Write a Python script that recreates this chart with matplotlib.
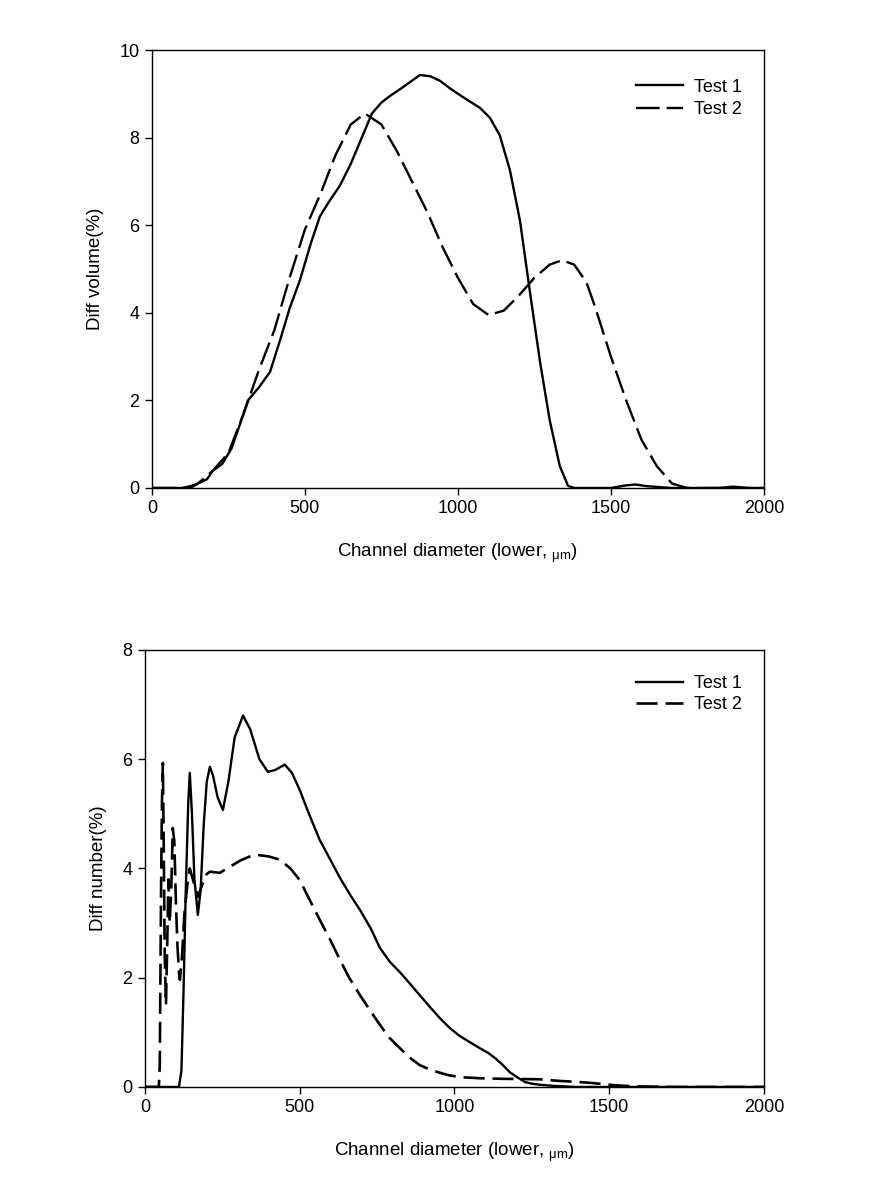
import matplotlib
matplotlib.use("Agg")
import matplotlib.pyplot as plt

plt.rcParams['font.family'] = ['Liberation Sans', 'DejaVu Sans']
plt.rcParams['mathtext.fontset'] = 'custom'
plt.rcParams['mathtext.rm'] = 'Liberation Sans'

# --- top panel: differential volume ---
vol_x1 = [0, 100, 130, 150, 180, 200, 230, 260, 290, 314, 350, 386, 420, 450, 484,
          520, 549, 580, 614, 650, 680, 719, 750, 778, 820, 876, 910, 941, 975, 1007,
          1040, 1072, 1105, 1137, 1170, 1203, 1235, 1268, 1300, 1333, 1360, 1380,
          1500, 1550, 1580, 1620, 1700, 1850, 1900, 1950, 2000]
vol_y1 = [0, 0, 0.02, 0.1, 0.2, 0.4, 0.55, 0.9, 1.5, 2.0, 2.3, 2.65, 3.4, 4.1, 4.75,
          5.6, 6.2, 6.55, 6.9, 7.4, 7.9, 8.55, 8.8, 8.95, 9.15, 9.43, 9.4, 9.3, 9.12, 8.97,
          8.82, 8.68, 8.45, 8.05, 7.26, 6.1, 4.5, 2.9, 1.55, 0.5, 0.05, 0,
          0, 0.06, 0.08, 0.04, 0, 0, 0.03, 0, 0]

vol_x2 = [0, 100, 130, 150, 200, 250, 300, 350, 400, 450, 500, 550, 600, 650, 696,
          750, 800, 850, 900, 950, 1000, 1050, 1100, 1150, 1200, 1250, 1300, 1340,
          1380, 1420, 1450, 1500, 1550, 1600, 1650, 1700, 1750, 2000]
vol_y2 = [0, 0, 0.05, 0.1, 0.4, 0.8, 1.7, 2.7, 3.6, 4.8, 5.9, 6.7, 7.6, 8.3, 8.55,
          8.3, 7.7, 7.0, 6.3, 5.5, 4.8, 4.2, 3.95, 4.05, 4.4, 4.8, 5.1, 5.2,
          5.1, 4.7, 4.1, 3.0, 2.0, 1.1, 0.5, 0.1, 0, 0]

# --- bottom panel: differential number ---
num_x1 = [0, 110, 118, 125, 132, 140, 145, 152, 160, 171, 180, 190, 200, 210, 220,
          235, 252, 270, 290, 317, 340, 370, 397, 420, 452, 475, 500, 530, 565, 600,
          630, 665, 695, 730, 759, 790, 824, 855, 888, 920, 953, 985, 1018, 1050,
          1082, 1110, 1131, 1155, 1179, 1205, 1228, 1250, 1276, 1320, 1360, 1390, 2000]
num_y1 = [0, 0, 0.3, 1.8, 3.6, 5.2, 5.75, 5.0, 3.8, 3.15, 3.6, 4.8, 5.6, 5.86, 5.7,
          5.3, 5.07, 5.6, 6.4, 6.8, 6.55, 6.0, 5.77, 5.8, 5.9, 5.75, 5.44, 5.0, 4.52, 4.15,
          3.83, 3.5, 3.24, 2.9, 2.55, 2.3, 2.1, 1.9, 1.68, 1.47, 1.26, 1.08, 0.93, 0.82,
          0.71, 0.62, 0.53, 0.41, 0.27, 0.17, 0.09, 0.06, 0.04, 0.02, 0.01, 0, 0]

num_x2 = [0, 45, 48, 52, 55, 58, 61, 64, 68, 72, 76, 80, 85, 90, 95, 100, 105, 110, 113,
          120, 128, 137, 145, 155, 171, 185, 200, 210, 242, 280, 310, 339, 360, 400, 436,
          470, 500, 530, 565, 600, 630, 660, 695, 730, 759, 790, 824, 855, 888, 920,
          953, 985, 1018, 1080, 1147, 1210, 1276, 1341, 1405, 1450, 1502, 1550, 1600, 1700, 2000]
num_y2 = [0, 0, 0.4, 3.5, 5.2, 5.93, 4.3, 2.4, 1.5, 2.6, 3.8, 3.0, 3.6, 4.74, 4.5, 3.4, 2.6, 2.1, 1.96,
          2.4, 3.2, 3.7, 4.0, 3.8, 3.48, 3.7, 3.9, 3.94, 3.92, 4.05, 4.15, 4.22, 4.25, 4.22, 4.16,
          4.0, 3.79, 3.45, 3.06, 2.68, 2.33, 2.0, 1.68, 1.38, 1.14, 0.9, 0.71, 0.54, 0.4, 0.32,
          0.26, 0.21, 0.18, 0.16, 0.15, 0.145, 0.14, 0.11, 0.09, 0.07, 0.04, 0.02, 0.01, 0, 0]

xlabel = r"Channel diameter (lower, $_{\mathrm{\mu m}}$)"

fig = plt.figure(figsize=(8.73, 11.77), dpi=100)
ax1 = fig.add_axes([0.174, 0.5854, 0.701, 0.3721])
ax2 = fig.add_axes([0.166, 0.0765, 0.709, 0.3713])

fs = 13


def style(ax, ymax, ystep, ylabel):
    ax.set_xlim(0, 2000)
    ax.set_ylim(0, ymax)
    ax.set_xticks(range(0, 2001, 500))
    ax.set_yticks(range(0, ymax + 1, ystep))
    ax.tick_params(direction='out', length=5, width=1, labelsize=fs, colors='black',
                   top=False, right=False, pad=4)
    for s in ax.spines.values():
        s.set_linewidth(1.0)
    ax.set_xlabel(xlabel, fontsize=fs + 0.5, labelpad=17)
    ax.set_ylabel(ylabel, fontsize=fs + 0.5, labelpad=11)


l1, = ax1.plot(vol_x1, vol_y1, color='black', lw=1.7, label='Test 1')
l2, = ax1.plot(vol_x2, vol_y2, color='black', lw=1.7, label='Test 2')
l2.set_dashes([10, 3])
style(ax1, 10, 2, 'Diff volume(%)')
ax1.legend(loc='upper right', frameon=False, fontsize=fs, handlelength=2.6,
           handletextpad=0.6, labelspacing=0.3, bbox_to_anchor=(0.99, 0.972))

m1, = ax2.plot(num_x1, num_y1, color='black', lw=1.7, label='Test 1')
m2, = ax2.plot(num_x2, num_y2, color='black', lw=1.9, label='Test 2')
m2.set_dashes([8, 3])
style(ax2, 8, 2, 'Diff number(%)')
ax2.legend(loc='upper right', frameon=False, fontsize=fs, handlelength=2.6,
           handletextpad=0.6, labelspacing=0.25, bbox_to_anchor=(0.99, 0.98))

fig.savefig('out.png', dpi=100)
